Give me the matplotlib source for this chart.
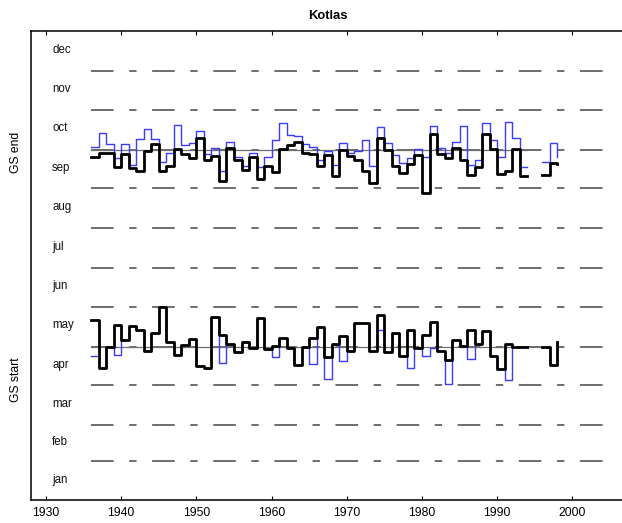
import numpy as np
import matplotlib
matplotlib.use("Agg")
import matplotlib.pyplot as plt

plt.rcParams['font.family'] = ['Liberation Sans', 'DejaVu Sans']
plt.rcParams['lines.scale_dashes'] = False

nan = np.nan
years = np.arange(1936, 1999)

# Growing-season end (day of year): thin blue and thick black series
end_blue = [275.1, 286.0, 277.2, 266.6, 277.2, 261.2, 280.8, 289.1, 280.8, 263.5,
            270.5, 291.9, 276.2, 278.2, 287.3, 269.5, 274.1, 256.3, 279.0, 267.5,
            260.4, 270.2, 259.8, 267.4, 280.7, 293.7, 284.6, 283.6, 277.6, 275.1,
            265.2, 271.8, 260.9, 278.2, 270.5, 271.5, 280.7, 260.4, 290.6, 278.2,
            268.5, 262.2, 266.6, 273.3, 267.4, 290.9, 274.3, 270.4, 278.9, 290.9,
            261.2, 264.6, 293.7, 280.6, 267.4, 294.4, 282.2, 259.6, nan, nan,
            263.4, 278.2, 267.4]
end_black = [267.4, 270.5, 270.5, 259.6, 269.2, 258.6, 256.3, 271.8, 277.2, 256.3,
             260.4, 273.3, 269.7, 266.7, 282.2, 265.2, 267.9, 248.9, 274.5, 265.2,
             257.4, 266.9, 250.1, 259.9, 255.9, 273.2, 276.8, 278.6, 270.5, 269.5,
             260.2, 268.4, 252.4, 272.3, 267.7, 265.0, 256.0, 247.2, 281.9, 272.6,
             260.2, 255.1, 261.5, 268.7, 239.6, 285.2, 269.7, 266.6, 274.5, 264.6,
             253.3, 259.6, 285.2, 273.2, 253.7, 256.5, 273.3, 252.6, nan, nan,
             253.4, 262.7, 261.7]

# Growing-season start (day of year)
start_black = [140.8, 103.1, 119.9, 137.2, 125.5, 136.3, 133.3, 116.8, 130.5, 150.9,
               124.0, 113.7, 121.0, 126.1, 104.9, 103.8, 143.1, 129.4, 122.4, 115.5,
               124.0, 118.7, 142.6, 118.3, 120.8, 126.6, 119.1, 105.9, 120.1, 126.9,
               135.6, 112.0, 122.2, 127.9, 117.0, 138.3, 138.3, 117.0, 144.7, 116.2,
               130.7, 112.9, 133.1, 118.6, 129.2, 139.5, 117.0, 109.3, 125.3, 120.7,
               133.1, 122.2, 132.3, 112.9, 102.8, 122.2, 119.9, 119.9, nan, nan,
               119.9, 105.9, 123.5]
start_blue = [112.4, 103.1, 119.9, 113.7, 125.5, 136.3, 133.3, 116.8, 130.5, 150.9,
              124.0, 113.7, 121.0, 126.1, 104.9, 103.8, 143.1, 107.3, 122.4, 115.5,
              124.0, 118.7, 142.6, 118.3, 111.6, 126.6, 119.1, 105.9, 120.1, 106.7,
              135.6, 95.1, 122.2, 109.2, 117.0, 138.3, 138.3, 117.0, 133.1, 116.2,
              130.7, 112.9, 103.1, 118.6, 112.4, 119.3, 117.0, 91.2, 125.3, 120.7,
              110.4, 122.2, 132.3, 112.9, 102.8, 94.3, 119.9, 119.9, nan, nan,
              119.9, 105.9, 123.5]

month_names = ['jan', 'feb', 'mar', 'apr', 'may', 'jun',
               'jul', 'aug', 'sep', 'oct', 'nov', 'dec']
month_len = [31, 28, 31, 30, 31, 30, 31, 31, 30, 31, 30, 31]
month_start = np.concatenate([[0], np.cumsum(month_len)[:-1]])

fig = plt.figure(figsize=(6.22, 5.23), dpi=100)
W, H = 622.0, 523.0
ax = fig.add_axes([31 / W, 23 / H, (625 - 31) / W, 469 / H])
ax.set_xlim(1928, 2007)
ax.set_ylim(1, 365)

# month boundaries as long/short dashed lines
for ms in month_start[1:]:
    ax.plot([1936, 2005.2], [ms, ms], color='#6e6e6e', lw=1.4,
            dashes=(16.3, 11.2, 5.3, 11.2), solid_capstyle='butt', zorder=1)

# reference lines at 1 May and 1 October
for ref in (month_start[4], month_start[9]):
    ax.plot([1936, 1994], [ref, ref], color='#6e6e6e', lw=0.9, zorder=1)

# month labels
for name, ms, ml in zip(month_names, month_start, month_len):
    ax.text(1930.8, ms + ml / 2 + 1, name, ha='left', va='center',
            fontsize=8.3, color='#111111')

ax.step(years, end_blue, where='post', color='#3c3cff', lw=1.0, zorder=2)
ax.step(years, start_blue, where='post', color='#3c3cff', lw=1.0, zorder=2)
ax.step(years, end_black, where='post', color='black', lw=2.0, zorder=3)
ax.step(years, start_black, where='post', color='black', lw=2.0, zorder=3)

ax.set_xticks(np.arange(1930, 2001, 10))
ax.set_yticks([])
ax.tick_params(axis='x', direction='in', top=True, length=3, width=0.8,
               labelsize=8.7, pad=5)
for s in ax.spines.values():
    s.set_linewidth(1.1)

fig.text(328 / W, 1 - 15.7 / H, 'Kotlas', ha='center', va='center',
         fontsize=9.4, fontweight='bold')
fig.text(15.7 / W, 1 - 152.7 / H, 'GS end', rotation=90, ha='center',
         va='center', fontsize=8.7)
fig.text(15.7 / W, 1 - 379.7 / H, 'GS start', rotation=90, ha='center',
         va='center', fontsize=8.7)

fig.savefig('out.png', dpi=100)
